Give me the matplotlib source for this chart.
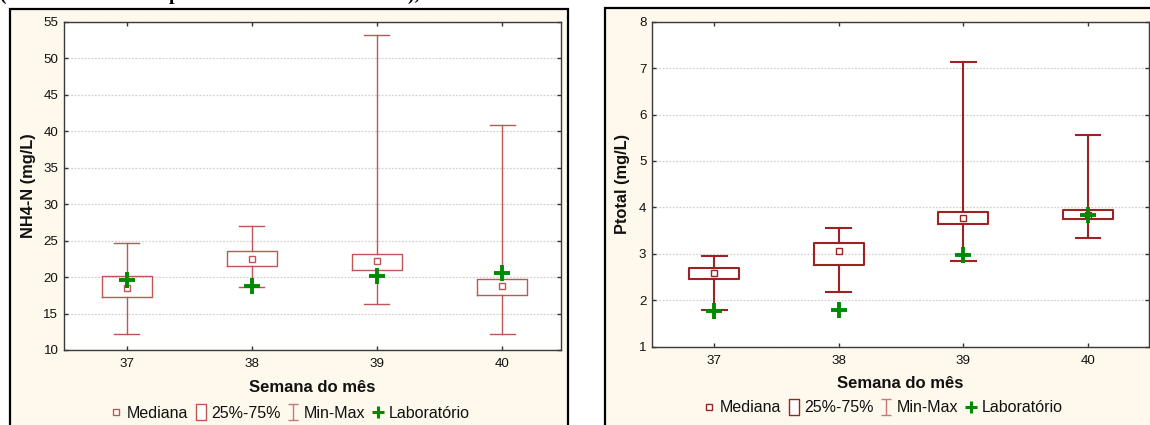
import matplotlib
matplotlib.use("Agg")
import matplotlib.pyplot as plt
from matplotlib.patches import Rectangle
from matplotlib.lines import Line2D
from matplotlib.path import Path

# ---------------- data ----------------
weeks = [37, 38, 39, 40]
week_labels = ["37", "38", "39", "40"]

nh4_min = [12.2, 18.6, 16.3, 12.2]
nh4_q1 = [17.2, 21.5, 21.0, 17.5]
nh4_med = [18.45, 22.5, 22.2, 18.8]
nh4_q3 = [20.1, 23.6, 23.2, 19.8]
nh4_max = [24.6, 27.0, 53.2, 40.9]
nh4_lab = [19.6, 18.8, 20.1, 20.6]
nh4_ticks = [10, 15, 20, 25, 30, 35, 40, 45, 50, 55]

pt_min = [1.78, 2.18, 2.84, 3.34]
pt_q1 = [2.45, 2.76, 3.65, 3.74]
pt_med = [2.59, 3.07, 3.77, 3.84]
pt_q3 = [2.70, 3.24, 3.91, 3.94]
pt_max = [2.95, 3.56, 7.13, 5.55]
pt_lab = [1.76, 1.80, 2.97, 3.83]
pt_ticks = [1, 2, 3, 4, 5, 6, 7, 8]

legend_labels = ["Mediana", "25%-75%", "Min-Max", "Laboratório"]

# ---------------- style ----------------
W, H = 1150, 425
plt.rcParams["font.family"] = ["Liberation Sans", "DejaVu Sans"]
fig = plt.figure(figsize=(W / 100, H / 100), dpi=100)
fig.patch.set_facecolor("white")

CREAM = "#FEF9EC"
GREEN = "#008A00"


def fx(px):
    return px / W


def fy(py):
    return 1 - py / H


# frames (panel backgrounds)
for x0, x1, y0 in [(10, 568, 9), (605, 1170, 8)]:
    fig.patches.append(Rectangle((fx(x0), fy(440)), fx(x1) - fx(x0), fy(y0) - fy(440),
                                 transform=fig.transFigure, facecolor=CREAM,
                                 edgecolor="black", linewidth=1.6, zorder=-5))

# partially cut title text at the top (only its lower part shows, as in the reference)
fig.text(fx(0), fy(-0.5), "(coletadas semanais pelo laboratório credenciado), nas semanas 37 a 40",
         family=["Liberation Serif", "DejaVu Serif"], fontweight="bold", fontsize=14,
         ha="left", va="baseline", color="black", zorder=-4)


def panel(rect_px, ylim, yticks, mins, q1s, meds, q3s, maxs, labs, color, lw,
          ylabel, ylabel_x, xlim, xlabel_y, legend_xy):
    l, r, t, b = rect_px
    ax = fig.add_axes([fx(l), fy(b), fx(r) - fx(l), fy(t) - fy(b)])
    ax.set_zorder(2)
    ax.set_facecolor("white")
    stats = []
    for i in range(len(weeks)):
        stats.append(dict(med=meds[i], q1=q1s[i], q3=q3s[i],
                          whislo=mins[i], whishi=maxs[i], fliers=[]))
    lp = dict(color=color, linewidth=lw)
    ax.bxp(stats, positions=weeks, widths=0.4, capwidths=0.2, showfliers=False,
           boxprops=lp, whiskerprops=lp, capprops=lp,
           medianprops=dict(linestyle="none"), manage_ticks=False, zorder=3)
    ax.plot(weeks, meds, linestyle="none", marker="s", markersize=4.6,
            markerfacecolor="white", markeredgecolor=color, markeredgewidth=1.0, zorder=4)
    ax.plot(weeks, labs, linestyle="none", marker="+", markersize=12,
            markeredgewidth=2.8, color=GREEN, zorder=5)
    ax.set_xlim(*xlim)
    ax.set_ylim(*ylim)
    ax.set_xticks(weeks)
    ax.set_xticklabels(week_labels)
    ax.set_yticks(yticks)
    ax.set_yticklabels([str(v) for v in yticks])
    ax.yaxis.grid(True, linestyle=(0, (1.5, 1.2)), color="#D2D2D2", linewidth=0.9)
    ax.set_axisbelow(True)
    ax.tick_params(direction="in", length=3, width=1, color="#333333",
                   top=True, right=True, labelsize=9.6, labelcolor="#111111")
    ax.tick_params(axis="x", pad=6)
    ax.tick_params(axis="y", pad=4)
    for s in ax.spines.values():
        s.set_color("#3a3a3a")
        s.set_linewidth(1.0)
    cx = (l + r) / 2
    cy = (t + b) / 2
    fig.text(fx(ylabel_x), fy(cy), ylabel, rotation=90, ha="center", va="center",
             fontsize=11.8, fontweight="bold", color="#111111")
    fig.text(fx(cx), fy(xlabel_y), "Semana do mês", ha="center", va="center",
             fontsize=12, fontweight="bold", color="#111111")

    box_path = Path([(-0.32, -0.5), (0.32, -0.5), (0.32, 0.5), (-0.32, 0.5), (-0.32, -0.5)],
                    [Path.MOVETO, Path.LINETO, Path.LINETO, Path.LINETO, Path.CLOSEPOLY])
    i_path = Path([(-0.3, 0.5), (0.3, 0.5), (0, 0.5), (0, -0.5), (-0.3, -0.5), (0.3, -0.5)],
                  [Path.MOVETO, Path.LINETO, Path.MOVETO, Path.LINETO, Path.MOVETO, Path.LINETO])
    handles = [
        Line2D([], [], linestyle="none", marker="s", markersize=4, markerfacecolor="white",
               markeredgecolor=color, markeredgewidth=1.0),
        Line2D([], [], linestyle="none", marker=box_path, markersize=12, markerfacecolor="white",
               markeredgecolor=color, markeredgewidth=1.0),
        Line2D([], [], linestyle="none", marker=i_path, markersize=12, markerfacecolor="none",
               markeredgecolor="#C87878", markeredgewidth=1.0),
        Line2D([], [], linestyle="none", marker="+", markersize=9, markeredgewidth=2.2,
               color=GREEN),
    ]
    fig.legend(handles, legend_labels, loc="center", ncol=4, frameon=False,
               bbox_to_anchor=(fx(legend_xy[0]), fy(legend_xy[1])),
               bbox_transform=fig.transFigure, fontsize=11.5, handlelength=0.7,
               handletextpad=0.3, columnspacing=0.45, borderpad=0, labelcolor="#111111")
    return ax


panel((64, 561, 21.7, 350), (10, 55), nh4_ticks, nh4_min, nh4_q1, nh4_med, nh4_q3,
      nh4_max, nh4_lab, "#BF5656", 1.0, "NH4-N (mg/L)", 28, (36.5, 40.47), 388, (290, 413))
panel((652, 1149, 21.7, 346.7), (1, 8), pt_ticks, pt_min, pt_q1, pt_med, pt_q3,
      pt_max, pt_lab, "#9B2323", 1.5, "Ptotal (mg/L)", 623, (36.5, 40.49), 384, (883, 408))

fig.savefig("out.png", dpi=100)
